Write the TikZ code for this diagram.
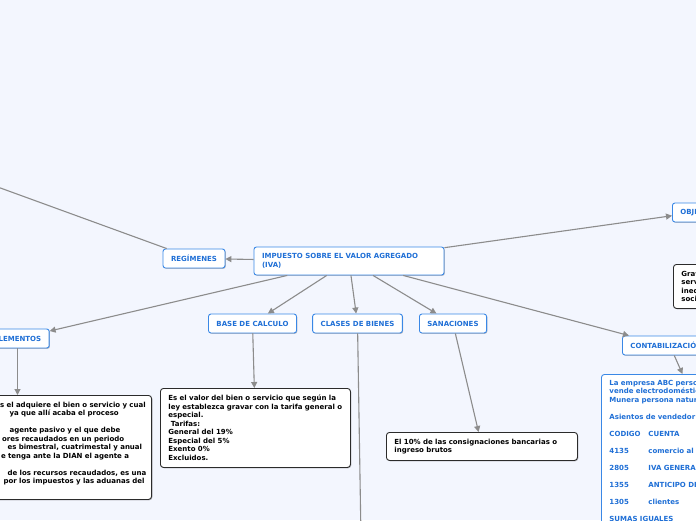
\documentclass[tikz,border=0pt]{standalone}
\usepackage{fontspec}
\setmainfont{DejaVu Sans}
\usetikzlibrary{arrows.meta,shadows}
\definecolor{bgcol}{HTML}{F3F6FE}
\definecolor{tblue}{HTML}{1F6FD6}
\definecolor{bblue}{HTML}{3A88E6}
\definecolor{conngray}{HTML}{8C8C8C}
\definecolor{bbord}{HTML}{2B2B2B}
\begin{document}
\begin{tikzpicture}[x=1pt,y=-1pt,
  font=\fontsize{7}{8.5}\selectfont\bfseries,
  shadowed/.style={drop shadow={shadow xshift=0.8pt,shadow yshift=-0.8pt,fill=black,opacity=0.25}},
  topic/.style={draw=bblue,line width=0.9pt,fill=white,rounded corners=2.5pt,text=tblue,
    minimum height=19pt,inner xsep=8pt,inner ysep=2pt,shadowed},
  note/.style={draw=bbord,line width=0.9pt,fill=white,rounded corners=3pt,text=black,
    align=left,inner xsep=8pt,inner ysep=5pt,shadowed},
  bluenote/.style={note,draw=bblue,text=tblue},
  conn/.style={draw=conngray,line width=1.1pt,-{Triangle[length=6pt,width=6pt]}}]
\clip (0,0) rectangle (696,520);
\fill[bgcol] (0,0) rectangle (696,520);

% main topics
\node[topic,text width=174pt,align=left,minimum height=28pt] (iva) at (349,261)
  {IMPUESTO SOBRE EL VALOR AGREGADO\\(IVA)};
\node[topic] (reg) at (194,258.5) {REGÍMENES};
\node[topic] (elem) at (17.5,338.5) {ELEMENTOS};
\node[topic] (base) at (252.5,323.5) {BASE DE CALCULO};
\node[topic] (clases) at (357.5,323.5) {CLASES DE BIENES};
\node[topic] (sana) at (453,323.5) {SANACIONES};
\node[topic,anchor=west] (contab) at (622,345.5) {CONTABILIZACIÓN};
\node[topic,anchor=west] (obj) at (672,212.5) {OBJETO};

% notes
\node[note,anchor=north west,text width=174pt,minimum height=79pt] (basetext) at (160,388)
  {Es el valor del bien o servicio que según la\\
   ley establezca gravar con la tarifa general o\\
   especial.\\
   \hspace*{2.5pt}Tarifas:\\
   General del 19\%\\
   Especial del 5\%\\
   Exento 0\%\\
   Excluidos.};
\node[note,anchor=north west,text width=175pt,minimum height=28pt] (sanatext) at (386,432)
  {El 10\% de las consignaciones bancarias o\\ingreso brutos};
\node[note,anchor=north east,inner xsep=2pt,text width=202pt,minimum height=104pt] (elemtext) at (152,395)
  {\hspace*{52.5pt}s el adquiere el bien o servicio y cual\\
   \hspace*{62pt}ya que allí acaba el proceso\\[8.5pt]
   \hspace*{62pt}agente pasivo y el que debe\\
   \hspace*{54.5pt}ores recaudados en un periodo\\
   \hspace*{60pt}es bimestral, cuatrimestal y anual\\
   \hspace*{53.5pt}e tenga ante la DIAN el agente a\\[8.5pt]
   \hspace*{60pt}de los recursos recaudados, es una\\
   \hspace*{56pt}por los impuestos y las aduanas del\\[0.5pt]\mbox{}};
\node[bluenote,anchor=north west,text width=200pt] (contabbox) at (601,374)
  {La empresa ABC persona jurídica\\
   vende electrodomésticos a Juan\\
   Munera persona natural\\[8.5pt]
   Asientos de vendedor\\[8.5pt]
   \makebox[39pt][l]{CODIGO}CUENTA\\[8.5pt]
   \makebox[39pt][l]{4135}comercio al por mayor\\[8.5pt]
   \makebox[39pt][l]{2805}IVA GENERADO\\[8.5pt]
   \makebox[39pt][l]{1355}ANTICIPO DE IMPUESTOS\\[8.5pt]
   \makebox[39pt][l]{1305}clientes\\[8.5pt]
   SUMAS IGUALES};
\node[note,anchor=north west,text width=200pt,minimum height=44pt] (gravar) at (673,264)
  {Gravar el consumo de bienes y\\
   servicios para disminuir la\\
   inequidad y la pobreza\\
   social};

\coordinate (ul) at (-60,166);
\coordinate (clend) at (362,600);

% connectors
\draw[conn] (reg) -- (ul);
\draw[conn] (iva) -- (reg);
\draw[conn] (iva) -- (elem);
\draw[conn] (iva) -- (base);
\draw[conn] (iva) -- (clases);
\draw[conn] (iva) -- (sana);
\draw[conn] (iva) -- (contab);
\draw[conn] (iva) -- (obj);
\draw[conn] (elem) -- (elem |- elemtext.north);
\draw[conn] (base) -- (basetext);
\draw[conn] (sana) -- (sanatext);
\draw[conn] (clases) -- (clend);
\draw[conn] ([xshift=8pt]contab.south) -- ([xshift=-27pt]contabbox.north);
\end{tikzpicture}
\end{document}
